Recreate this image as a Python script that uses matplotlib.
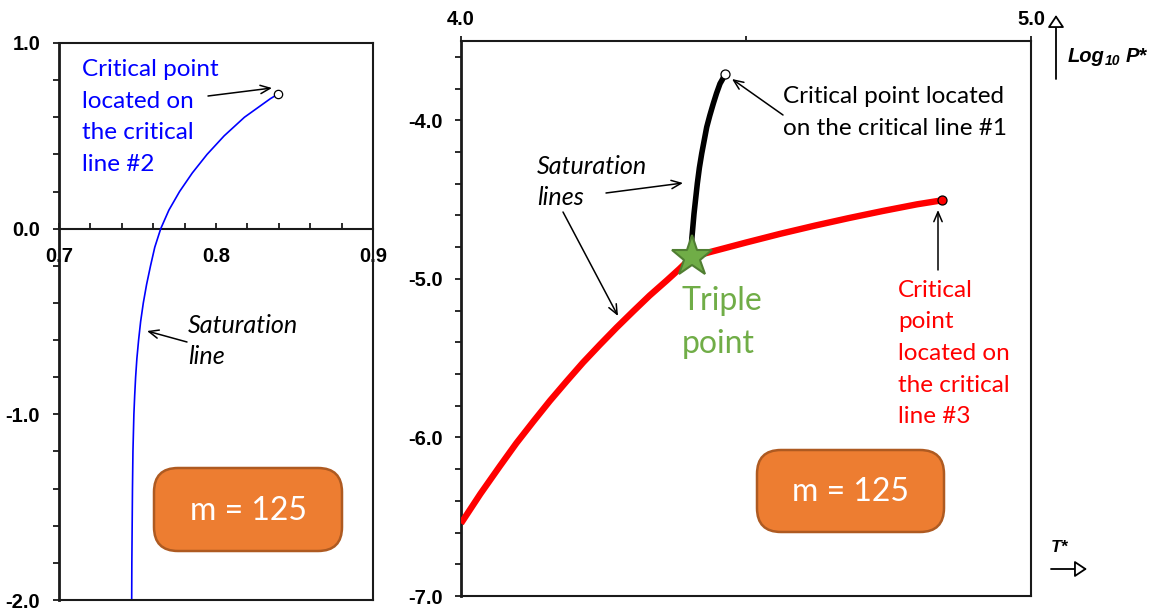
import matplotlib
matplotlib.use('Agg')
import matplotlib.pyplot as plt
from matplotlib.patches import FancyArrowPatch, FancyBboxPatch
from matplotlib.transforms import IdentityTransform
from matplotlib.ticker import MultipleLocator, FixedLocator

plt.rcParams['axes.unicode_minus'] = False

# ---------------- data ----------------
# left panel (critical line #2 branch)
left_T = [0.7463, 0.7464, 0.7466, 0.7468, 0.7471, 0.7477, 0.7482, 0.7488, 0.7496,
          0.7507, 0.7520, 0.7537, 0.7558, 0.7583, 0.7610, 0.7648, 0.7700, 0.7768,
          0.7849, 0.7943, 0.8052, 0.8181, 0.8346, 0.8395]
left_logP = [-2.0, -1.8, -1.6, -1.4, -1.2, -1.0, -0.9, -0.8, -0.7,
             -0.6, -0.5, -0.4, -0.3, -0.2, -0.1, 0.0, 0.1, 0.2,
             0.3, 0.4, 0.5, 0.6, 0.7, 0.725]
left_xticks = [0.7, 0.8, 0.9]
left_xticklabels = ['0.7', '0.8', '0.9']
left_yticks = [-2.0, -1.0, 0.0, 1.0]
left_yticklabels = ['-2.0', '-1.0', '0.0', '1.0']

# right panel
black_T = [4.4050, 4.4047, 4.4088, 4.4146, 4.4182, 4.4223, 4.4311, 4.4365,
           4.4426, 4.4483, 4.4544, 4.4590, 4.4632]
black_logP = [-4.860, -4.757, -4.589, -4.399, -4.300, -4.210, -4.043, -3.970,
              -3.895, -3.830, -3.769, -3.740, -3.706]
red_T = [4.000, 4.034, 4.068, 4.097, 4.127, 4.156, 4.185, 4.214, 4.244, 4.273,
         4.302, 4.331, 4.361, 4.383, 4.405,
         4.440, 4.500, 4.560, 4.620, 4.680, 4.740, 4.800, 4.8433]
red_logP = [-6.542, -6.356, -6.182, -6.037, -5.899, -5.769, -5.647, -5.528, -5.414, -5.307,
            -5.205, -5.105, -5.010, -4.938, -4.862,
            -4.828, -4.771, -4.716, -4.665, -4.617, -4.572, -4.530, -4.505]
triple_T, triple_logP = 4.405, -4.862
right_xticks = [4.0, 5.0]
right_xticklabels = ['4.0', '5.0']
right_xminor = [4.5]
right_yticks = [-7.0, -6.0, -5.0, -4.0]
right_yticklabels = ['-7.0', '-6.0', '-5.0', '-4.0']

# ---------------- figure ----------------
W, H = 1154, 613
fig = plt.figure(figsize=(W / 100, H / 100), dpi=100)
renderer = fig.canvas.get_renderer()

BODY = ['Lato', 'DejaVu Sans']
TICKF = ['Liberation Sans', 'DejaVu Sans']
SPC = '#1a1a1a'
TSIZE = 14.5


def fx(x):
    return x / W


def fy(y):
    return 1 - y / H


def fit(text, target, **kw):
    t = fig.text(0, 0, text, fontsize=20, **kw)
    w = t.get_window_extent(renderer=renderer).width
    t.remove()
    return 20 * target / w


size_body = fit('Critical point located', 221, family=BODY)
size_it = fit('Saturation', 110, family=BODY, style='italic')
size_tp = fit('Triple', 81, family=BODY)
size_m = fit('m = 125', 117, family=BODY)


def lines(x, y0, dy, txts, **kw):
    for i, s in enumerate(txts):
        fig.text(fx(x), fy(y0 + i * dy), s, ha='left', va='baseline', **kw)


def arrow(x0, y0, x1, y1, style='->,head_length=0.7,head_width=0.3', fc='black', lw=1.1):
    a = FancyArrowPatch((fx(x0), fy(y0)), (fx(x1), fy(y1)), transform=fig.transFigure,
                        arrowstyle=style, mutation_scale=10, lw=lw, color='black',
                        shrinkA=0, shrinkB=0)
    if fc != 'black':
        a.set_facecolor(fc)
    fig.add_artist(a)


def box(x0, y0, x1, y1):
    p = FancyBboxPatch((x0, H - y1), x1 - x0, y1 - y0,
                       boxstyle='round,pad=0,rounding_size=24',
                       transform=IdentityTransform(), fc='#ED7D31', ec='#AE5A21', lw=1.8)
    fig.add_artist(p)
    fig.text(fx((x0 + x1) / 2), fy((y0 + y1) / 2 + 1), 'm = 125', color='white',
             family=BODY, fontsize=size_m, ha='center', va='center')


# ---------------- left axes ----------------
axL = fig.add_axes([fx(59), fy(600), (373 - 59) / W, (600 - 43) / H])
axL.plot(left_T, left_logP, color='#0000FF', lw=1.2, zorder=3, solid_joinstyle='round')
axL.plot(left_T[-1], left_logP[-1], 'o', ms=6, mfc='white', mec='black', mew=0.9, zorder=4)
axL.set_xlim(0.7, 0.9)
axL.set_ylim(-2.0, 1.0)
for s in axL.spines.values():
    s.set_color(SPC)
    s.set_linewidth(1.5)
axL.spines['left'].set_linewidth(2.0)
axL.spines['bottom'].set_position(('data', 0))
axL.axhline(-2.0, color=SPC, lw=1.5, clip_on=False, zorder=5)
axL.xaxis.set_major_locator(FixedLocator(left_xticks))
axL.xaxis.set_minor_locator(MultipleLocator(0.02))
axL.set_xticklabels(left_xticklabels, fontweight='bold', family=TICKF, fontsize=TSIZE)
axL.tick_params(axis='x', which='both', direction='in', length=4.3, width=1.3,
                color=SPC, pad=13)
axL.yaxis.set_major_locator(FixedLocator(left_yticks))
axL.yaxis.set_minor_locator(MultipleLocator(0.2))
axL.set_yticklabels(left_yticklabels, fontweight='bold', family=TICKF, fontsize=TSIZE)
axL.tick_params(axis='y', which='both', direction='out', length=4.3, width=1.3,
                color=SPC, pad=9.2)

# ---------------- right axes ----------------
axR = fig.add_axes([fx(461), fy(596), (1031 - 461) / W, (596 - 41) / H])
axR.plot(red_T, red_logP, color='#FF0000', lw=4.6, zorder=3, solid_capstyle='butt',
         solid_joinstyle='round')
axR.plot(black_T, black_logP, color='black', lw=4.0, zorder=3, solid_capstyle='round',
         solid_joinstyle='round')
axR.plot(triple_T, triple_logP, marker='*', ms=31, mfc='#70AD47', mec='#507E32',
         mew=1.5, zorder=5)
axR.plot(black_T[-1], black_logP[-1], 'o', ms=6.5, mfc='white', mec='black', mew=0.9, zorder=6)
axR.plot(red_T[-1], red_logP[-1], 'o', ms=6.5, mfc='#FF0000', mec='black', mew=0.9, zorder=6)
axR.set_xlim(4.0, 5.0)
axR.set_ylim(-7.0, -3.5)
for s in axR.spines.values():
    s.set_color(SPC)
    s.set_linewidth(1.5)
axR.spines['left'].set_linewidth(2.0)
axR.xaxis.tick_top()
axR.xaxis.set_major_locator(FixedLocator(right_xticks))
axR.xaxis.set_minor_locator(FixedLocator(right_xminor))
axR.set_xticklabels(right_xticklabels, fontweight='bold', family=TICKF, fontsize=TSIZE)
axR.tick_params(axis='x', which='both', direction='out', length=3.6, width=1.3,
                color=SPC, pad=5)
axR.yaxis.set_major_locator(FixedLocator(right_yticks))
axR.yaxis.set_minor_locator(MultipleLocator(0.2))
axR.set_yticklabels(right_yticklabels, fontweight='bold', family=TICKF, fontsize=TSIZE)
axR.tick_params(axis='y', which='both', direction='out', length=4.3, width=1.3,
                color=SPC, pad=8.5)

# ---------------- annotations ----------------
lines(82, 76, 31.7, ['Critical point', 'located on', 'the critical', 'line #2'],
      color='#0000FF', family=BODY, fontsize=size_body)
arrow(208, 96, 272, 88)

lines(188, 333, 31.5, ['Saturation', 'line'], color='black', family=BODY,
      style='italic', fontsize=size_it)
arrow(187, 342, 147, 331)

lines(537, 174, 31, ['Saturation', 'lines'], color='black', family=BODY,
      style='italic', fontsize=size_it)
arrow(606, 193, 683, 183)
arrow(563, 212, 618, 316)

lines(783, 103, 31.7, ['Critical point located', 'on the critical line #1'],
      color='black', family=BODY, fontsize=size_body)
arrow(783, 115, 732, 79)

lines(898, 297, 31.5, ['Critical', 'point', 'located on', 'the critical', 'line #3'],
      color='#FF0000', family=BODY, fontsize=size_body)
arrow(938, 270, 938, 210)

lines(682, 310, 43, ['Triple', 'point'], color='#70AD47', family=BODY, fontsize=size_tp)

box(154, 468, 342, 551)
box(757, 450, 944, 532)

# axis-name labels with hollow arrows
t1 = fig.text(fx(1068), fy(62), 'Log', family=TICKF, fontweight='bold', style='italic',
              fontsize=14.5, ha='left', va='baseline')
e1 = t1.get_window_extent(renderer=renderer)
t2 = fig.text(e1.x1 / W, fy(65), '10', family=TICKF, fontweight='bold', style='italic',
              fontsize=10, ha='left', va='baseline')
e2 = t2.get_window_extent(renderer=renderer)
fig.text((e2.x1 + 5) / W, fy(62), 'P*', family=TICKF, fontweight='bold', style='italic',
         fontsize=14.5, ha='left', va='baseline')
arrow(1056, 79, 1056, 15, style='-|>,head_length=0.75,head_width=0.5', fc='white', lw=1.3)

fig.text(fx(1051), fy(552), 'T*', family=TICKF, fontweight='bold', style='italic',
         fontsize=12.5, ha='left', va='baseline')
arrow(1051, 569, 1087, 569, style='-|>,head_length=0.75,head_width=0.5', fc='white', lw=1.3)

fig.savefig('out.png', dpi=100)
